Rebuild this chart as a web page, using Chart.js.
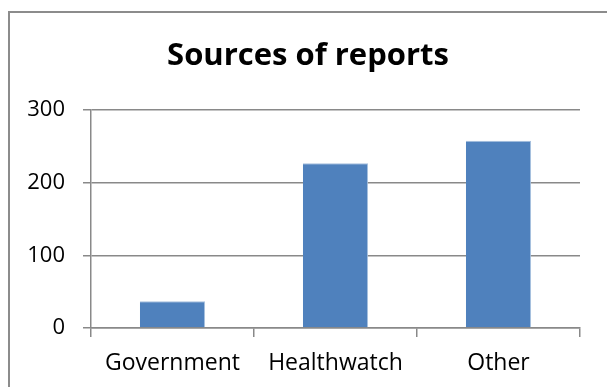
<!DOCTYPE html>
<html>
<head>
<meta charset="utf-8">
<script src="https://cdn.jsdelivr.net/npm/chart.js@4.4.1/dist/chart.umd.min.js"></script>
<style>
  html, body { margin: 0; padding: 0; background: #fff; overflow: hidden; }
  #wrap { position: relative; width: 607px; height: 387px; }
  #frame {
    position: absolute; left: 8px; top: 11px; width: 700px; height: 500px;
    border-left: 2px solid #8c8c8c; border-top: 2px solid #8c8c8c;
    pointer-events: none;
  }
</style>
</head>
<body>
<div id="wrap">
  <canvas id="chart" width="607" height="387"></canvas>
  <div id="frame"></div>
</div>
<script>
let categories = ['Government', 'Healthwatch', 'Other'];
let reports = [37, 227, 258];
let yTicks = [0, 100, 200, 300];

let axisGrey = '#898989';
let fontName = "'Open Sans', 'Noto Sans', sans-serif";

function drawChart() {
    let ctx = document.getElementById('chart').getContext('2d');

    let chart = new Chart(ctx, {
        type: 'bar',
        data: {
            labels: categories,
            datasets: [{
                label: 'Sources of reports',
                backgroundColor: '#4f81bd',
                borderColor: '#a7c0de',
                borderWidth: { top: 1, right: 1, left: 0, bottom: 0 },
                data: reports,
                categoryPercentage: 1.0,
                barPercentage: 0.4
            }]
        },
        options: {
            responsive: false,
            animation: false,
            layout: {
                padding: { left: 9, right: 0, top: 0, bottom: 0 }
            },
            plugins: {
                legend: { display: false },
                tooltip: { enabled: false },
                title: {
                    display: true,
                    text: 'Sources of reports',
                    color: '#000',
                    font: { family: fontName, size: 31, weight: 'bold', lineHeight: 1.2 },
                    padding: { top: 38, bottom: 35 }
                }
            },
            scales: {
                x: {
                    grid: {
                        offset: true,
                        drawOnChartArea: false,
                        drawTicks: true,
                        tickLength: 9,
                        color: axisGrey,
                        lineWidth: 1.5
                    },
                    border: { display: true, color: axisGrey, width: 1.5 },
                    ticks: {
                        color: '#000',
                        font: { family: fontName, size: 23 },
                        padding: 13
                    },
                    afterFit: function (scale) { scale.height = 59; }
                },
                y: {
                    min: 0,
                    max: 300,
                    afterBuildTicks: function (scale) {
                        scale.ticks = yTicks.map(v => ({ value: v }));
                    },
                    grid: {
                        color: axisGrey,
                        lineWidth: 1.5,
                        tickLength: 8
                    },
                    border: { display: true, color: axisGrey, width: 1.5 },
                    ticks: {
                        color: '#000',
                        font: { family: fontName, size: 22 },
                        padding: 18
                    },
                    afterFit: function (scale) { scale.width = 82; }
                },
                // empty axis on the right, only there to leave the right margin
                // so the title stays centred on the whole frame
                spacer: {
                    type: 'linear',
                    position: 'right',
                    grid: { drawOnChartArea: false, drawTicks: false },
                    border: { display: false },
                    ticks: { display: false },
                    afterFit: function (scale) { scale.width = 27; }
                }
            }
        }
    });
}

drawChart();
</script>
</body>
</html>
